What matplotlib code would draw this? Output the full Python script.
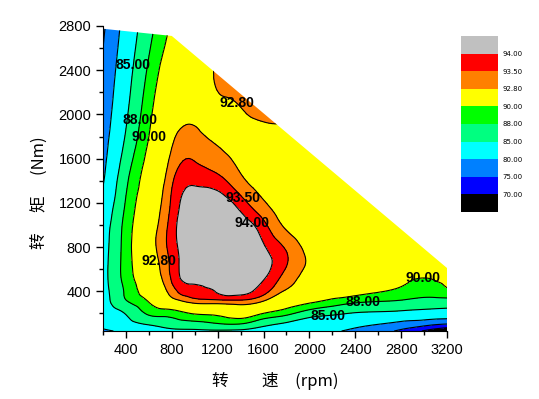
import numpy as np
import matplotlib as mpl
mpl.use('Agg')
import matplotlib.pyplot as plt
import matplotlib.tri as tri
from matplotlib.patches import Polygon
from matplotlib.ticker import MultipleLocator

# measured grid: speed (rpm) x torque (Nm) -> efficiency (%)
speed = [200, 400, 600, 800, 1000, 1200, 1400, 1600, 1800, 2000, 2200, 2400, 2800, 3000, 3200]
torque = [40, 100, 200, 300, 400, 500, 600, 800, 1000, 1200, 1400, 1600, 1800, 2000, 2400, 2800]
eff = [
    [79.0, 81.0, 82.5, 84.0, 84.3, 84.5, 84.3, 83.5, 82.5, 81.5, 80.5, 79.0, 74.0, 69.5, 65.0],
    [81.5, 83.5, 85.2, 86.5, 87.0, 87.7, 87.8, 85.8, 84.3, 83.0, 82.3, 81.2, 78.3, 76.5, 74.6],
    [82.8, 85.2, 88.4, 89.0, 90.2, 90.5, 91.2, 90.0, 88.7, 86.6, 85.6, 84.8, 84.0, 83.5, 83.0],
    [83.3, 87.6, 90.0, 92.0, 93.0, 93.1, 93.2, 92.6, 91.0, 90.2, 89.2, 88.2, 87.5, 87.0, 86.8],
    [83.6, 88.4, 91.0, 93.2, 93.8, 94.05, 94.2, 93.7, 92.6, 91.6, 91.0, 90.8, 89.6, 89.0, 89.6],
    [83.7, 88.8, 91.5, 93.55, 94.2, 94.5, 94.55, 94.0, 93.2, 92.3, 91.8, 91.3, 90.3, 89.9, 90.2],
    [83.7, 89.0, 91.8, 93.65, 94.4, 94.7, 94.7, 94.2, 93.45, 92.6, 92.1, 91.6, 90.8, 90.4, 90.6],
    [83.4, 89.0, 92.2, 93.75, 94.5, 94.75, 94.6, 94.05, 93.4, 92.5, 92.0, 91.6, 91.1, 90.9, 91.0],
    [82.8, 88.8, 92.0, 93.75, 94.5, 94.6, 94.3, 93.65, 92.6, 92.0, 91.6, 91.3, 91.0, 91.0, 91.1],
    [81.2, 88.2, 91.6, 93.6, 94.3, 94.3, 93.75, 92.9, 92.1, 91.6, 91.3, 91.1, 91.0, 91.0, 91.1],
    [79.6, 87.5, 91.1, 93.4, 93.9, 93.7, 93.0, 92.3, 91.8, 91.4, 91.2, 91.1, 91.1, 91.0, 91.1],
    [78.6, 86.4, 90.6, 93.0, 93.45, 93.1, 92.5, 92.0, 91.9, 91.6, 91.4, 91.2, 91.2, 91.1, 91.1],
    [77.8, 85.3, 90.0, 92.6, 93.0, 92.6, 92.3, 92.3, 92.5, 92.0, 91.7, 91.4, 91.3, 91.2, 91.2],
    [77.0, 84.5, 89.5, 92.1, 92.6, 92.45, 92.65, 93.0, 92.85, 92.3, 92.0, 91.6, 91.4, 91.3, 91.2],
    [75.6, 83.2, 88.4, 91.2, 91.9, 93.0, 93.4, 93.5, 93.0, 92.6, 92.3, 91.9, 91.6, 91.5, 91.3],
    [74.2, 81.8, 87.1, 90.3, 91.2, 93.4, 93.8, 93.8, 93.2, 92.7, 92.4, 92.0, 91.7, 91.6, 91.4],
]

# max torque envelope
env_speed = [200, 800, 3200]
env_torque = [2775, 2710, 610]

levels = [70, 75, 80, 85, 88, 90, 92.8, 93.5, 94]
colors = ['#000000', '#0000ff', '#0080ff', '#00ffff', '#00ff80',
          '#00ff00', '#ffff00', '#ff8000', '#ff0000', '#c0c0c0']

cjk = ['Noto Sans CJK SC', 'DejaVu Sans']

fig = plt.figure(figsize=(5.39, 3.99), dpi=100)
ax = fig.add_axes([103 / 539, 68 / 399, 344 / 539, 305 / 399])

# triangulate the grid and smooth it
X, Y = np.meshgrid(speed, torque)
nx, ny = len(speed), len(torque)
tris = []
for j in range(ny - 1):
    for i in range(nx - 1):
        a = j * nx + i
        tris.append([a, a + 1, a + nx + 1])
        tris.append([a, a + nx + 1, a + nx])
triang = tri.Triangulation(X.ravel(), Y.ravel(), tris)
refiner = tri.UniformTriRefiner(triang)
tri_f, z_f = refiner.refine_field(np.array(eff).ravel(), subdiv=3)

cf = ax.tricontourf(tri_f, z_f, levels=[0] + levels + [100], colors=colors)
cl = ax.tricontour(tri_f, z_f, levels=levels, colors='k', linewidths=0.8)

clip = Polygon(list(zip(env_speed, env_torque)) + [(3200, 40), (200, 40)],
               closed=True, fill=False, edgecolor='none', transform=ax.transData)
ax.add_patch(clip)
cf.set_clip_path(clip)
cl.set_clip_path(clip)

ax.set_xlim(200, 3200)
ax.set_ylim(40, 2800)

# contour labels: snap each wanted spot onto its contour line
label_pos = {
    85: [(470, 2455), (2160, 164)],
    88: [(514, 1954), (2466, 300)],
    90: [(601, 1800), (2991, 500)],
    92.8: [(1354, 2082), (680, 673)],
    93.5: [(1433, 1254)],
    94: [(1512, 1027)],
}
paths = cl.get_paths()
for lev, pts in label_pos.items():
    verts = paths[levels.index(lev)].vertices
    vpix = ax.transData.transform(verts)
    for p in pts:
        ppix = ax.transData.transform(p)
        k = np.argmin(((vpix - ppix) ** 2).sum(axis=1))
        ax.text(verts[k, 0], verts[k, 1], '%.2f' % lev, ha='center', va='center',
                fontsize=10, fontweight='bold', family='Liberation Sans', color='k')

ax.spines['top'].set_visible(False)
ax.spines['right'].set_visible(False)
ax.xaxis.set_major_locator(MultipleLocator(400))
ax.xaxis.set_minor_locator(MultipleLocator(200))
ax.yaxis.set_major_locator(MultipleLocator(400))
ax.yaxis.set_minor_locator(MultipleLocator(200))
ax.tick_params(which='major', direction='out', length=5, width=1, labelsize=10.5)
ax.tick_params(which='minor', direction='out', length=3, width=1)
for lab in ax.get_xticklabels() + ax.get_yticklabels():
    lab.set_family('Liberation Sans')

ax.set_xlabel('转\u3000\u3000速\u3000(rpm)', fontsize=12, family=cjk)
ax.xaxis.set_label_coords(0.5, -0.135)
ax.set_ylabel('转\u3000 矩\u3000 (Nm)', fontsize=12, family=cjk)
ax.yaxis.set_label_coords(-0.16, 0.455)

cax = fig.add_axes([461 / 539, (399 - 212) / 399, 37 / 539, 176 / 399])
cb = fig.colorbar(cf, cax=cax, ticks=levels, spacing='uniform', format='%.2f')
cb.outline.set_visible(False)
cax.tick_params(length=0, labelsize=5, pad=3)

fig.savefig('out.png', dpi=100)
